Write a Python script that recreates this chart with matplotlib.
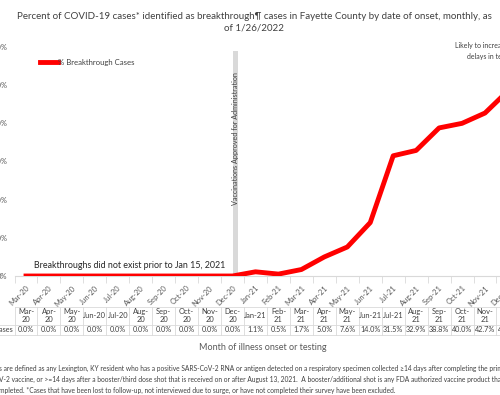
import matplotlib
matplotlib.use("Agg")
import matplotlib.pyplot as plt
import matplotlib.transforms as mtransforms
from matplotlib.lines import Line2D

plt.rcParams['font.family'] = ['Lato', 'DejaVu Sans']

months = ["Mar-20", "Apr-20", "May-20", "Jun-20", "Jul-20", "Aug-20", "Sep-20",
          "Oct-20", "Nov-20", "Dec-20", "Jan-21", "Feb-21", "Mar-21", "Apr-21",
          "May-21", "Jun-21", "Jul-21", "Aug-21", "Sep-21", "Oct-21", "Nov-21", "Dec-21"]
pct = [0.0, 0.0, 0.0, 0.0, 0.0, 0.0, 0.0, 0.0, 0.0, 0.0,
       1.1, 0.5, 1.7, 5.0, 7.6, 14.0, 31.5, 32.9, 38.8, 40.0, 42.7, 48.5]
table_values = ["0.0%", "0.0%", "0.0%", "0.0%", "0.0%", "0.0%", "0.0%", "0.0%",
                "0.0%", "0.0%", "1.1%", "0.5%", "1.7%", "5.0%", "7.6%", "14.0%",
                "31.5%", "32.9%", "38.8%", "40.0%", "42.7%", "48.5%"]
yticks = [0, 10, 20, 30, 40, 50, 60]
ytick_labels = ["0%", "10%", "20%", "30%", "40%", "50%", "60%"]
series_name = "% Breakthrough Cases"

W, H = 500, 395
fig = plt.figure(figsize=(W / 100, H / 100), dpi=100)

def fx(px):
    return px / W

def fy(py):
    return 1 - py / H

n = len(months)
step = 22.95
left_px = 26 - step / 2
top_px, bot_px = 47, 276
ax = fig.add_axes([fx(left_px), fy(bot_px), fx(n * step), (bot_px - top_px) / H])

x = list(range(n))
ax.plot(x, pct, color="#FF0000", lw=3.5, solid_joinstyle="round", label=series_name, zorder=3)
ax.set_xlim(-0.5, n - 0.5)
ax.set_ylim(0, 60)
ax.set_yticks(yticks)
ax.set_yticklabels(ytick_labels)
ax.tick_params(axis="y", length=0, pad=5, labelsize=5.5, colors="#595959")
for s in ["top", "right", "left"]:
    ax.spines[s].set_visible(False)
ax.spines["bottom"].set_color("#D9D9D9")

ax.set_xticks(x)
ax.set_xticklabels(months, rotation=45, ha="right", rotation_mode="anchor",
                   fontsize=5.4, color="#595959")
ax.tick_params(axis="x", which="major", length=0, pad=6)
ax.set_xticks([i - 0.5 for i in range(n + 1)], minor=True)
ax.tick_params(axis="x", which="minor", length=5, color="#D9D9D9")

# vaccination bar
ax.axvspan(9.0, 9.23, ymin=0, ymax=(276 - 51) / (276 - 47), color="#D9D9D9", zorder=1, lw=0)
ax.text(9.12, 35.9, "Vaccinations Approved for Administration", rotation=90,
        ha="center", va="center", fontsize=5.2, color="#404040", zorder=2)

ax.text(4.5, 1.6, "Breakthroughs did not exist prior to Jan 15, 2021",
        ha="center", va="bottom", fontsize=6.4, color="#262626")

fig.text(fx(492), fy(51), "Likely to increase due to\ndelays in testing", ha="center", va="center",
         fontsize=5.0, color="#404040", linespacing=1.6)

leg = ax.legend(loc="upper left", bbox_to_anchor=(fx(40), fy(59)),
                bbox_transform=fig.transFigure, frameon=False, fontsize=5.6,
                handlelength=2.3, handletextpad=0.0, borderpad=0, borderaxespad=0)
for t in leg.get_texts():
    t.set_color("#404040")

# data table
tr = mtransforms.blended_transform_factory(ax.transData, fig.transFigure)
t_top, t_mid, t_bot = 307, 324.5, 335
lc = "#D9D9D9"
for yy in [t_top, t_mid, t_bot]:
    x0 = -0.5 if yy == t_top else -3
    fig.add_artist(Line2D([x0, n - 0.5], [fy(yy), fy(yy)], transform=tr, color=lc, lw=0.6))
for i in range(n + 1):
    fig.add_artist(Line2D([i - 0.5, i - 0.5], [fy(t_top), fy(t_bot)], transform=tr, color=lc, lw=0.6))
for i, m in enumerate(months):
    label = m if m in ("Jun-20", "Jul-20", "Jan-21", "Jun-21", "Jul-21") else m.replace("-", "-\n")
    fig.text(i, fy((t_top + t_mid) / 2), label, transform=tr, ha="center", va="center",
             fontsize=5.4, color="#404040", linespacing=1.2)
    fig.text(i, fy((t_mid + t_bot) / 2), table_values[i], transform=tr, ha="center", va="center",
             fontsize=5.2, color="#404040")
fig.text(-0.58, fy((t_mid + t_bot) / 2), series_name, transform=tr, ha="right", va="center",
         fontsize=5.2, color="#404040")

fig.text(fx(263), fy(347), "Month of illness onset or testing", ha="center", va="center",
         fontsize=6.5, color="#595959")

fig.text(fx(254), fy(22.5), "Percent of COVID-19 cases* identified as breakthrough\u00b6 cases in Fayette County by date of onset, monthly, as\nof 1/26/2022",
         ha="center", va="center", fontsize=7.05, color="#404040", linespacing=1.3)

foot = ["s are defined as any Lexington, KY resident who has a positive SARS-CoV-2 RNA or antigen detected on a respiratory specimen collected \u226514 days after completing the primary series",
        "V-2 vaccine, or >=14 days after a booster/third dose shot that is received on or after August 13, 2021.  A booster/additional shot is any FDA authorized vaccine product that",
        "mpleted. *Cases that have been lost to follow-up, not interviewed due to surge, or have not completed their survey have been excluded."]
for k, line in enumerate(foot):
    fig.text(fx(-1), fy(368 + 11.3 * k), line, ha="left", va="center", fontsize=4.75, color="#404040")

fig.savefig("out.png", dpi=100)
